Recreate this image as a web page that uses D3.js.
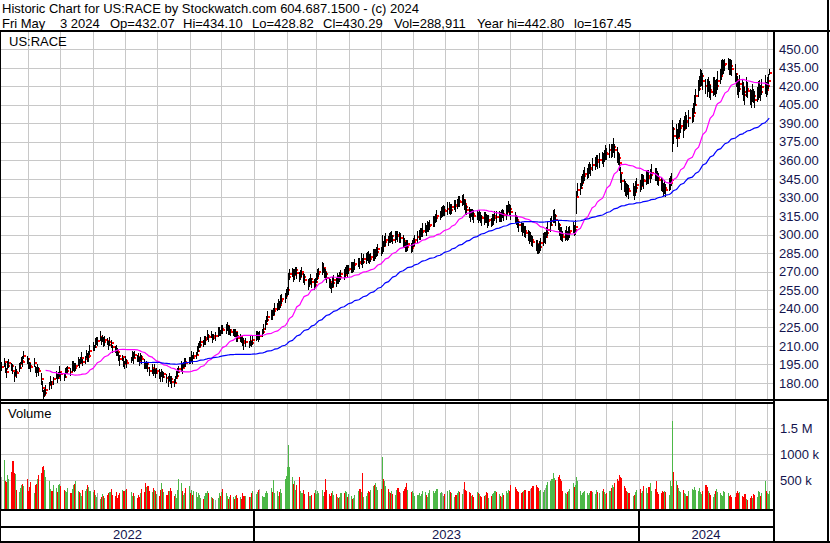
<!DOCTYPE html>
<html><head><meta charset="utf-8">
<script src="https://cdn.jsdelivr.net/npm/d3@7"></script>
<style>
body{margin:0;background:#fff}
svg{display:block}
text{font-family:"Liberation Sans",Arial,sans-serif}
</style>
</head><body>
<svg id="c" width="830" height="543"></svg>
<script>
// ---------- DATA (daily bars, 2022-05-06 .. 2024-05-03) ----------
const firstDay = "2022-05-06";
const lastDay = "2024-05-03";
const holidays = ["2022-05-30","2022-06-20","2022-07-04","2022-09-05","2022-11-24","2022-12-26",
  "2023-01-02","2023-01-16","2023-02-20","2023-04-07","2023-05-29","2023-06-19","2023-07-04",
  "2023-09-04","2023-11-23","2023-12-25","2024-01-01","2024-01-15","2024-02-19","2024-03-29"];

const closes = [
193,197,191,189,194,196,194,190,186,189,
188,192,195,198,197,202,199,196,194,193,
196,192,190,191,190,183,176,170,172,174,
178,181,179,183,186,184,186,189,187,185,
188,190,192,189,193,195,192,194,197,196,
198,200,197,199,203,201,202,206,210,209,
212,214,214,217,215,216,213,215,214,211,
213,212,209,207,206,205,202,199,201,197,
195,198,196,199,202,200,203,201,200,198,
201,199,196,194,195,192,190,192,189,191,
188,190,187,186,188,185,187,184,182,185,
183,181,180,184,186,189,191,193,192,195,
197,196,199,198,201,200,202,203,206,209,
211,213,212,215,216,218,217,219,216,218,
218,220,222,221,224,223,225,226,222,223,
221,222,220,221,218,216,217,215,214,212,
213,211,214,212,215,217,219,218,218,221,
224,228,231,233,236,235,238,240,242,244,
243,246,248,250,252,255,266,268,270,267,
268,271,269,266,268,270,266,263,260,262,
264,262,259,262,265,268,270,272,273,270,
268,265,262,260,258,261,263,262,265,264,
266,268,267,270,272,271,272,274,273,275,
276,278,277,279,278,280,281,283,282,280,
282,284,283,285,286,288,287,294,291,294,
296,295,298,297,299,296,298,300,299,297,
297,295,293,291,290,292,289,291,294,296,
298,300,301,302,303,305,304,306,307,308,
310,311,313,315,316,318,318,320,319,321,
322,320,322,324,323,325,327,326,328,328,
325,322,320,318,316,318,317,315,316,314,
315,314,313,312,314,313,311,312,310,312,
313,315,314,316,314,315,317,316,318,320,
322,321,318,314,312,310,308,306,304,305,
303,301,300,298,298,296,294,292,290,288,
290,293,295,298,298,301,304,308,311,314,
315,312,308,304,302,300,298,300,302,299,
301,303,305,304,306,330,336,338,342,345,
347,349,350,352,354,353,356,358,360,359,
360,362,361,364,366,365,368,367,369,371,
368,365,362,358,350,343,340,338,336,337,
335,336,334,338,340,339,342,344,343,345,
347,346,348,350,349,348,346,344,341,339,
337,338,336,340,342,344,385,380,383,378,
384,386,388,385,390,392,391,394,396,398,
405,412,418,422,426,428,424,420,418,421,
417,415,419,421,418,420,424,428,432,435,
437,438,440,437,436,434,430,425,420,418,
422,419,415,413,418,416,412,410,414,412,
409,413,416,418,415,419,421,417,420,424,
430.29];

// distance from close up to the day's high
const rangeAbove = [
4,3,5,3,4,3,2,5,3,5, 3,4,2,3,5,4,3,4,3,3, 4,2,3,4,3,5,6,4,3,4, 3,5,3,2,4,3,3,5,2,3,
4,3,2,3,5,3,4,2,4,3, 3,5,2,3,4,3,4,5,3,2, 4,3,3,5,2,3,4,3,2,3, 4,3,2,3,5,3,3,4,2,3,
3,4,3,2,4,5,3,2,4,3, 3,4,3,2,3,5,3,3,2,4, 3,2,4,3,3,5,2,3,4,3, 3,5,3,2,4,3,3,5,3,2,
3,4,2,3,5,3,3,2,4,3, 3,4,3,3,2,5,3,3,4,2, 3,5,3,2,3,4,3,3,5,3, 3,2,4,3,3,5,3,2,3,4,
3,3,4,2,3,5,3,3,4,3, 4,3,3,5,3,4,3,5,3,4, 3,5,4,3,4,3,3,4,3,5, 4,3,5,4,3,4,3,5,4,3,
4,3,5,3,4,4,3,6,4,3, 4,5,3,4,3,5,4,3,4,3, 4,3,5,4,3,4,3,4,5,3, 4,3,4,6,3,4,4,3,5,4,
3,4,5,3,4,4,3,6,4,5, 5,4,3,5,4,4,5,3,4,5, 4,5,4,3,6,4,4,5,3,4, 5,4,4,3,6,4,4,5,3,4,
5,4,4,5,3,4,5,4,4,5, 4,5,3,4,5,4,4,5,4,5, 4,6,4,4,5,3,4,5,4,4, 5,4,3,6,4,4,5,4,3,5,
4,4,5,3,4,5,4,4,6,4, 5,4,6,4,4,5,3,4,5,4, 4,6,4,5,4,4,5,4,6,4, 5,4,6,4,4,5,6,5,4,6,
6,5,4,5,4,6,5,4,5,4, 5,4,5,4,6,5,6,4,5,4, 5,6,4,5,5,4,6,5,4,5, 6,5,5,4,6,5,5,6,4,7,
5,6,5,7,5,6,5,5,6,4, 5,6,5,5,6,5,7,5,5,6, 5,6,5,7,5,6,5,6,5,7, 5,6,5,6,5,6,8,7,6,7,
6,7,6,8,6,7,6,7,6,8, 8,6,7,6,8,5,7,6,8,6, 7,6,8,6,7,6,8,6,9,7, 4,4,2.8,5,6,7,8,6,8,7,
7,6,8,6,9,7,6,7,8,6, 7,6,8,7,6,7,8,6,7,6, 3.81];

// distance from close down to the day's low
const rangeBelow = [
3,4,3,5,3,4,4,3,5,3, 4,3,4,3,4,3,4,5,3,4, 3,4,5,3,4,5,3,2.55,3,4, 4,3,4,5,3,4,3,4,5,3,
4,3,4,3,4,5,3,4,3,4, 3,4,3,4,3,4,5,3,4,3, 4,3,4,3,4,3,4,5,3,4, 3,4,5,3,4,3,4,5,3,4,
4,3,4,3,4,5,3,4,3,4, 3,4,5,3,4,3,4,5,3,4, 4,3,4,5,3,4,3,4,5,3, 4,5,3,4,3,4,3,4,5,3,
4,3,4,3,4,5,3,4,3,4, 3,4,3,4,5,3,4,3,4,3, 4,3,4,3,4,3,5,4,3,4, 3,4,3,4,5,3,4,3,4,5,
4,3,4,3,4,3,4,5,3,4, 4,5,4,4,5,4,4,5,4,5, 4,5,4,5,4,5,15,5,4,5, 5,4,5,4,5,4,5,4,5,4,
4,5,4,5,4,5,4,5,4,5, 5,4,5,4,5,4,5,4,5,4, 4,5,4,5,4,5,4,5,4,5, 5,4,5,4,5,4,5,4,5,4,
4,5,4,5,4,5,4,10,5,4, 5,4,5,4,5,4,5,4,5,4, 4,5,4,5,4,5,4,5,4,5, 5,4,5,4,5,4,5,4,5,4,
4,5,4,5,4,5,4,5,4,5, 5,4,5,4,5,4,5,4,5,4, 5,6,4,5,6,4,5,6,4,5, 4,5,6,4,5,4,6,5,4,5,
5,4,5,6,4,5,4,5,6,4, 4,5,6,5,4,5,6,4,5,4, 5,4,5,6,4,5,4,5,6,4, 5,6,4,5,6,4,5,6,4,5,
6,5,4,5,6,5,4,5,6,4, 5,6,4,5,6,13,5,6,5,6, 5,6,5,6,5,6,5,6,5,6, 6,5,6,5,6,5,6,5,6,5,
6,7,6,7,8,7,6,7,6,5, 6,5,6,7,6,5,6,5,6,5, 6,5,6,5,6,5,6,5,6,5, 6,5,6,5,6,5,18,7,6,7,
6,7,6,7,6,7,6,7,6,7, 7,8,7,6,7,8,7,6,7,6, 7,6,7,8,7,6,7,6,7,6, 7,6,7,8,7,6,7,6,7,8,
7,6,7,8,7,6,7,8,7,6, 7,6,7,8,7,6,7,6,7,6, 1.47];

// daily volume, thousands of shares
const volumesK = [
560,890,480,470,600,520,660,880,640,620, 320,280,350,420,440,390,520,300,380,470,
260,410,440,520,600,640,760,780,700,560, 480,330,300,420,360,280,410,430,400,310,
300,280,350,260,330,410,440,480,300,270, 250,200,320,290,340,410,370,300,280,310,
220,190,260,150,180,240,200,170,230,260, 280,330,220,210,270,170,230,260,310,300,
290,320,340,270,210,260,200,160,230,190, 250,340,280,460,380,400,300,270,350,310,
300,240,200,320,450,340,270,230,300,290, 360,300,200,240,170,310,520,460,300,220,
250,360,400,260,310,230,300,280,190,250, 220,170,140,210,260,300,250,180,160,140,
120,160,250,200,280,330,260,200,150,180, 220,180,140,200,230,160,190,140,250,210,
200,190,180,250,290,240,280,320,330,210, 180,250,300,260,350,280,500,260,300,210,
280,330,260,530,580,760,1180,760,560,430, 480,320,410,560,300,250,320,240,280,210,
200,230,260,310,240,290,260,320,200,280, 520,320,240,200,260,290,220,240,190,170,
180,260,250,300,280,190,240,210,150,170, 220,290,340,280,640,180,200,260,300,270,
310,400,420,460,380,310,330,940,520,480, 400,330,280,260,300,240,230,310,350,280,
260,300,340,380,460,320,280,300,250,200, 230,260,210,240,300,270,220,180,250,320,
290,260,300,330,250,280,260,200,240,300, 310,270,250,190,220,260,300,280,240,330,
470,320,300,280,250,210,230,180,270,260, 240,210,190,200,230,280,250,170,210,240,
250,300,270,240,210,180,250,230,290,260, 320,300,420,380,340,300,280,250,270,300,
310,320,290,300,340,360,400,420,380,350, 300,310,280,320,360,420,470,480,520,650,
540,500,560,600,520,480,300,260,240,280, 300,340,450,380,420,560,480,300,220,250,
280,300,250,220,260,300,270,240,310,280, 260,300,330,280,240,260,300,350,420,380,
450,520,480,610,560,540,400,350,300,280, 250,200,230,280,310,330,260,300,400,350,
250,380,460,300,330,480,280,240,250,300, 280,300,270,230,480,400,1640,660,480,420,
350,300,280,320,260,240,210,300,330,310, 370,320,300,350,270,240,300,420,380,300,
260,220,190,240,300,330,280,250,220,200, 300,280,250,200,220,190,180,250,300,260,
270,200,180,240,150,130,170,200,160,240, 230,180,300,280,210,260,480,290,250,240,
289];

const priceTicks = [180,195,210,225,240,255,270,285,300,315,330,345,360,375,390,405,420,435,450];
const volumeTicks = [500000, 1000000, 1500000];
const volumeTickLabels = ["500 k", "1000 k", "1.5 M"];
const yearLabels = ["2022", "2023", "2024"];
const maPeriods = [30, 90];
const headerLine1 = "Historic Chart for US:RACE by Stockwatch.com 604.687.1500 - (c) 2024";
const headerLine2 = ["Fri May", "3 2024", "Op=432.07", "Hi=434.10", "Lo=428.82", "Cl=430.29", "Vol=288,911", "Year hi=442.80", "lo=167.45"];

// ---------- BUILD ----------
const parse = d3.utcParse("%Y-%m-%d");
const hol = new Set(holidays);
const fmt = d3.utcFormat("%Y-%m-%d");
const dates = d3.utcDay.range(parse(firstDay), d3.utcDay.offset(parse(lastDay), 1))
  .filter(d => d.getUTCDay() !== 0 && d.getUTCDay() !== 6 && !hol.has(fmt(d)));
const n = Math.min(dates.length, closes.length);
const bars = d3.range(n).map(i => ({
  date: dates[i], close: closes[i],
  high: closes[i] + rangeAbove[i], low: closes[i] - rangeBelow[i],
  vol: volumesK[i] * 1000,
  dir: i === 0 ? 0 : Math.sign(closes[i] - closes[i-1])
}));

const svg = d3.select("#c");
const INK = "#14144e", GRID = "#c8c8c8";
const plotL = 1, plotR = 773, priceTop = 32, priceBot = 399, volTop = 403, volBot = 509;

const x = d3.scaleUtc().domain([Date.UTC(2023,0,1), Date.UTC(2024,0,1)]).range([254, 639]);
const y = d3.scaleLinear().domain([180, 450]).range([383, 49]);
const yv = d3.scaleLinear().domain([0, 1500000]).range([506.5, 428.3]);

svg.append("rect").attr("width", 830).attr("height", 543).attr("fill", "#fff");

const defs = svg.append("defs");
defs.append("clipPath").attr("id", "cp").append("rect")
  .attr("x", plotL).attr("y", priceTop).attr("width", plotR - plotL).attr("height", priceBot - priceTop);
defs.append("clipPath").attr("id", "cv").append("rect")
  .attr("x", plotL).attr("y", volTop).attr("width", plotR - plotL).attr("height", volBot - volTop);

// gridlines
const months = d3.utcMonth.range(d3.utcMonth.ceil(dates[0]), dates[n-1]);
const grid = svg.append("g").attr("shape-rendering", "crispEdges").attr("stroke", GRID).attr("stroke-width", 1);
priceTicks.forEach(t => grid.append("line").attr("x1", plotL).attr("x2", plotR)
  .attr("y1", Math.round(y(t)) + 0.5).attr("y2", Math.round(y(t)) + 0.5));
volumeTicks.forEach(t => grid.append("line").attr("x1", plotL).attr("x2", plotR)
  .attr("y1", Math.round(yv(t)) + 0.5).attr("y2", Math.round(yv(t)) + 0.5));
months.forEach(m => {
  const xx = Math.round(x(m)) + 0.5;
  grid.append("line").attr("x1", xx).attr("x2", xx).attr("y1", priceTop).attr("y2", priceBot);
  grid.append("line").attr("x1", xx).attr("x2", xx).attr("y1", volTop).attr("y2", volBot);
});

// price bars
const pg = svg.append("g").attr("clip-path", "url(#cp)").attr("shape-rendering", "crispEdges");
bars.forEach(b => {
  const xx = Math.round(x(b.date));
  const yh = Math.round(y(b.high)), yl = Math.round(y(b.low));
  pg.append("rect").attr("x", xx).attr("y", yh).attr("width", 1).attr("height", Math.max(1, yl - yh)).attr("fill", "#000");
  pg.append("rect").attr("x", xx + 1).attr("y", Math.round(y(b.close)) - 1).attr("width", 2).attr("height", 2).attr("fill", "#ff0000");
});

// moving averages
const maColors = ["#ff00ff", "#0000ff"];
maPeriods.forEach((p, k) => {
  const pts = [];
  for (let i = p - 1; i < n; i++) pts.push({ date: bars[i].date, v: d3.mean(bars.slice(i - p + 1, i + 1), d => d.close) });
  svg.append("path").attr("clip-path", "url(#cp)").datum(pts)
    .attr("fill", "none").attr("stroke", maColors[k]).attr("stroke-width", 1.2)
    .attr("d", d3.line().x(d => x(d.date) + 0.5).y(d => y(d.v)));
});

// volume bars
const vg = svg.append("g").attr("clip-path", "url(#cv)").attr("shape-rendering", "crispEdges");
bars.forEach(b => {
  vg.append("rect").attr("x", x(b.date)).attr("width", 1.06)
    .attr("y", yv(b.vol)).attr("height", volBot - yv(b.vol))
    .attr("fill", b.dir > 0 ? "#4db848" : b.dir < 0 ? "#ff0000" : "#a8a8a8");
});

// axes (right side)
const ay = svg.append("g").attr("transform", `translate(${775},0)`)
  .call(d3.axisRight(y).tickValues(priceTicks).tickFormat(d3.format(".2f")).tickSize(0).tickPadding(4));
const av = svg.append("g").attr("transform", `translate(${775},0)`)
  .call(d3.axisRight(yv).tickValues(volumeTicks).tickFormat((d, i) => volumeTickLabels[i]).tickSize(0).tickPadding(5));
[ay, av].forEach(a => {
  a.select(".domain").remove();
  a.selectAll("text").attr("fill", INK).attr("font-size", 13).attr("font-family", '"Liberation Sans",Arial,sans-serif');
});

// frame lines
const fr = svg.append("g").attr("fill", "#000").attr("shape-rendering", "crispEdges");
fr.append("rect").attr("x", 0).attr("y", 30).attr("width", 830).attr("height", 2);
fr.append("rect").attr("x", 0).attr("y", 30).attr("width", 1).attr("height", 513);
fr.append("rect").attr("x", 827).attr("y", 0).attr("width", 2).attr("height", 543);
fr.append("rect").attr("x", 773).attr("y", 30).attr("width", 2).attr("height", 513);
fr.append("rect").attr("x", 0).attr("y", 399).attr("width", 829).attr("height", 1.5);
fr.append("rect").attr("x", 0).attr("y", 402).attr("width", 775).attr("height", 1.5);
fr.append("rect").attr("x", 0).attr("y", 509).attr("width", 775).attr("height", 2);
fr.append("rect").attr("x", 0).attr("y", 526).attr("width", 775).attr("height", 2);
fr.append("rect").attr("x", 0).attr("y", 541).attr("width", 830).attr("height", 2);

// year separators and labels
const yearStarts = [parse("2023-01-01"), parse("2024-01-01")];
yearStarts.forEach(d => fr.append("rect").attr("x", Math.round(x(d)) - 1).attr("y", 511).attr("width", 2).attr("height", 30));
const yBounds = [plotL, x(yearStarts[0]), x(yearStarts[1]), plotR];
yearLabels.forEach((t, i) => svg.append("text").attr("x", (yBounds[i] + yBounds[i+1]) / 2).attr("y", 539)
  .attr("text-anchor", "middle").attr("font-size", 13).attr("fill", INK).text(t));

// titles
svg.append("text").attr("x", 2).attr("y", 13).attr("font-size", 13).attr("fill", "#000").text(headerLine1);
const h2x = [2, 60, 110, 183, 252, 323, 394, 477, 574];
headerLine2.forEach((t, i) => svg.append("text").attr("x", h2x[i]).attr("y", 28).attr("font-size", 13).attr("fill", "#000").text(t));
svg.append("text").attr("x", 9).attr("y", 46).attr("font-size", 13).attr("fill", "#000").text("US:RACE");
svg.append("text").attr("x", 8).attr("y", 418).attr("font-size", 13).attr("fill", "#000").text("Volume");
</script>
</body></html>
